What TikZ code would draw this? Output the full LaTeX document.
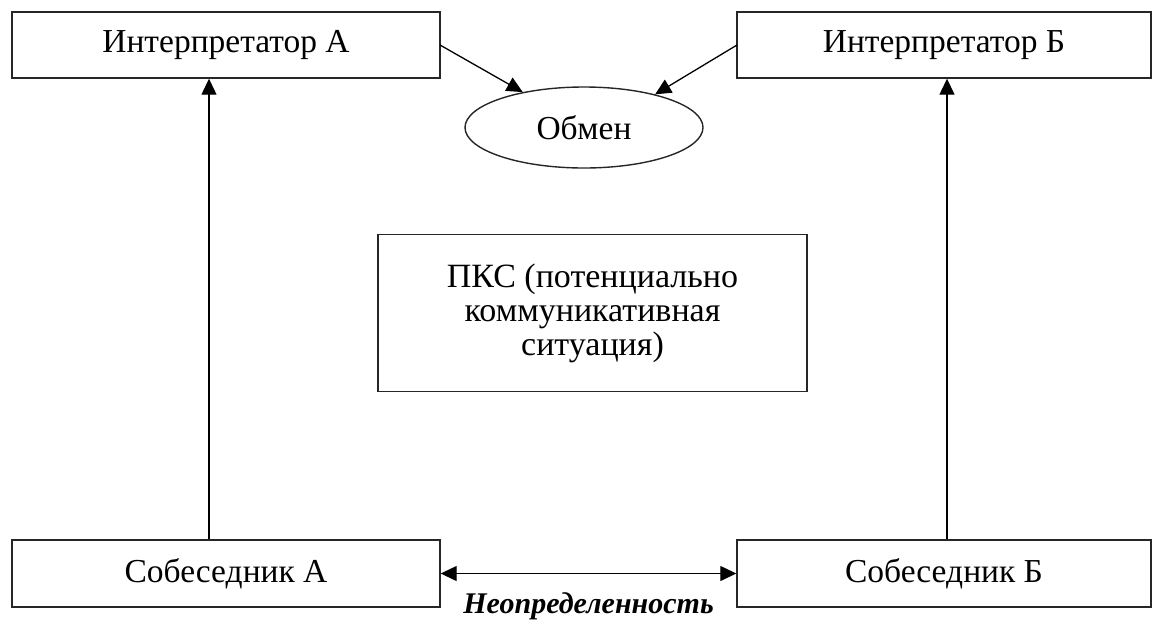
\documentclass[tikz,border=0pt]{standalone}
\usepackage{fontspec}
\setmainfont{Liberation Serif}
\usetikzlibrary{arrows.meta,shapes.geometric}
\begin{document}
\begin{tikzpicture}[x=1pt,y=-1pt,
  box/.style={draw=black!85,line width=1.4pt,rectangle,inner sep=0pt,font=\fontsize{33.5}{38}\selectfont},
  conn/.style={line width=1.3pt,-{Triangle[length=16pt,width=15pt]}},
  dconn/.style={line width=1.3pt,{Triangle[length=16pt,width=15pt]}-{Triangle[length=16pt,width=15pt]}}]
\useasboundingbox (0,0) rectangle (1153,622);
\node[box,minimum width=428pt,minimum height=66pt] (ia) at (226,45) {Интерпретатор А};
\node[box,minimum width=414pt,minimum height=66pt] (ib) at (944,45) {Интерпретатор Б};
\node[box,minimum width=428pt,minimum height=67pt] (sa) at (226,573.5) {Собеседник А};
\node[box,minimum width=414pt,minimum height=67pt] (sb) at (944,573.5) {Собеседник Б};
\node[box,minimum width=429pt,minimum height=157pt,align=center,font=\fontsize{34}{34}\selectfont] (pks) at (592.5,313) {ПКС (потенциально\\коммуникативная\\ситуация)};
\node[draw=black!85,line width=1.4pt,ellipse,minimum width=238pt,minimum height=81pt,inner sep=0pt,font=\fontsize{33.5}{38}\selectfont] (obm) at (584,127.5) {Обмен};
\coordinate (iaout) at (440,45);
\coordinate (ibout) at (737,45);
\draw[conn] (iaout) -- (obm.150);
\draw[conn] (ibout) -- (obm.25);
\draw[conn] (sa.north -| 209,0) -- (ia.south -| 209,0);
\draw[conn] (sb.north -| 947,0) -- (ib.south -| 947,0);
\draw[dconn] (sa.east) -- (sb.west) node[midway,below=19pt,inner sep=0pt,font=\fontsize{30}{36}\selectfont\bfseries\itshape] (lbl) {Неопределенность};
\end{tikzpicture}
\end{document}
